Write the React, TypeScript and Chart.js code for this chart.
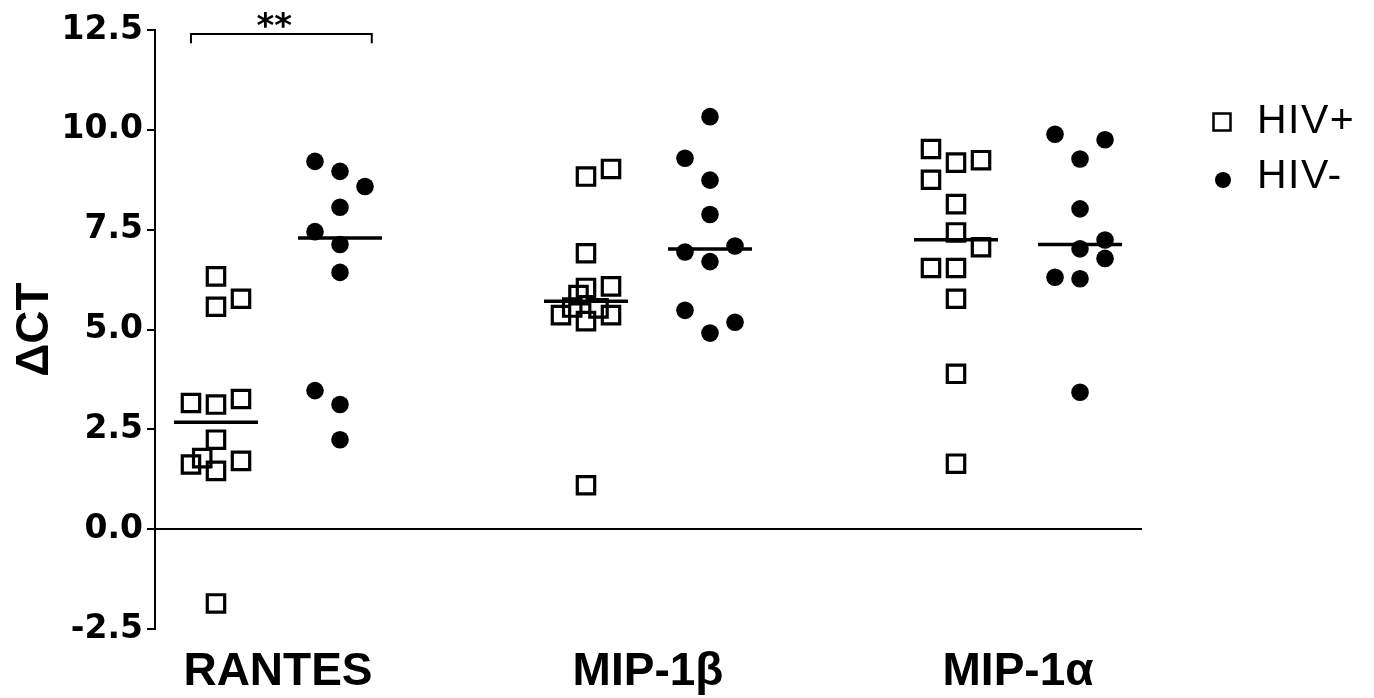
import { useEffect, useRef } from "react";
import { Chart, registerables } from "chart.js";
Chart.register(...registerables);

const categories = ["RANTES", "MIP-1β", "MIP-1α"];
const groups = ["HIV+", "HIV-"];
const yTicks = [-2.5, 0, 2.5, 5, 7.5, 10, 12.5];

const rantesPos = [6.33, 5.77, 5.57, 3.16, 3.12, 3.26, 2.24, 1.78, 1.62, 1.46, 1.71, -1.86];
const rantesPosSlot = [0, 1, 0, -1, 0, 1, 0, -0.55, -1, 0, 1, 0];
const rantesNeg = [9.21, 8.96, 8.58, 8.06, 7.45, 7.13, 6.43, 3.47, 3.12, 2.24];
const rantesNegSlot = [-1, 0, 1, 0, -1, 0, 0, -1, 0, 0];
const mip1bPos = [9.02, 8.83, 6.91, 6.08, 6.04, 5.86, 5.55, 5.53, 5.36, 5.36, 5.21, 1.1];
const mip1bPosSlot = [1, 0, 0, 1, 0, -0.3, -0.55, 0.5, -1, 1, 0, 0];
const mip1bNeg = [10.33, 9.29, 8.74, 7.88, 6.94, 7.09, 6.7, 5.48, 5.18, 4.91];
const mip1bNegSlot = [0, -1, 0, 0, -1, 1, 0, -1, 1, 0];
const mip1aPos = [9.52, 9.18, 9.24, 8.75, 8.14, 7.43, 7.06, 6.54, 6.54, 5.77, 3.89, 1.64];
const mip1aPosSlot = [-1, 0, 1, -1, 0, 0, 1, -1, 0, 0, 0, 0];
const mip1aNeg = [9.89, 9.75, 9.27, 8.02, 7.24, 7.02, 6.78, 6.31, 6.27, 3.43];
const mip1aNegSlot = [-1, 1, 0, 0, 1, 0, 1, -1, 0, 0];

const sigLabel = "**";

const posValues = [rantesPos, mip1bPos, mip1aPos];
const posSlots = [rantesPosSlot, mip1bPosSlot, mip1aPosSlot];
const negValues = [rantesNeg, mip1bNeg, mip1aNeg];
const negSlots = [rantesNegSlot, mip1bNegSlot, mip1aNegSlot];

const GROUP_OFFSET = 0.1676;
const SLOT_W = 0.0676;
const MEDIAN_HALF = 0.1135;

function median(a: number[]) {
  const s = [...a].sort((p, q) => p - q);
  const m = Math.floor(s.length / 2);
  return s.length % 2 ? s[m] : (s[m - 1] + s[m]) / 2;
}

const squareStyle = {
  pointStyle: "rect",
  pointRadius: 12.3,
  pointBorderWidth: 3.2,
  pointBorderColor: "#000",
  pointBackgroundColor: "rgba(0,0,0,0)",
};
const circleStyle = {
  pointStyle: "circle",
  pointRadius: 8.8,
  pointBorderWidth: 0,
  pointBorderColor: "#000",
  pointBackgroundColor: "#000",
};

function buildDatasets() {
  const ds: any[] = [];
  categories.forEach((cat, ci) => {
    const c = ci + 1;
    const xp = c - GROUP_OFFSET;
    const xn = c + GROUP_OFFSET;
    ds.push({
      type: "scatter",
      label: `${cat} ${groups[0]}`,
      data: posValues[ci].map((v, i) => ({ x: xp + posSlots[ci][i] * SLOT_W, y: v })),
      ...squareStyle,
      showLine: false,
      order: 2,
    });
    ds.push({
      type: "scatter",
      label: `${cat} ${groups[1]}`,
      data: negValues[ci].map((v, i) => ({ x: xn + negSlots[ci][i] * SLOT_W, y: v })),
      ...circleStyle,
      showLine: false,
      order: 2,
    });
    const mp = median(posValues[ci]);
    const mn = median(negValues[ci]);
    ds.push({
      type: "line",
      label: `${cat} ${groups[0]} median`,
      data: [
        { x: xp - MEDIAN_HALF, y: mp },
        { x: xp + MEDIAN_HALF, y: mp },
      ],
      borderColor: "#000",
      borderWidth: 3.5,
      pointRadius: 0,
      fill: false,
      order: 1,
    });
    ds.push({
      type: "line",
      label: `${cat} ${groups[1]} median`,
      data: [
        { x: xn - MEDIAN_HALF, y: mn },
        { x: xn + MEDIAN_HALF, y: mn },
      ],
      borderColor: "#000",
      borderWidth: 3.5,
      pointRadius: 0,
      fill: false,
      order: 1,
    });
  });
  // significance bracket between RANTES HIV+ and HIV-
  const bl = 1 - GROUP_OFFSET - SLOT_W;
  const br = 1 + GROUP_OFFSET + SLOT_W * 1.27;
  const top = 12.4;
  const tip = 12.17;
  ds.push({
    type: "line",
    label: "bracket",
    data: [
      { x: bl, y: tip },
      { x: bl, y: top },
      { x: br, y: top },
      { x: br, y: tip },
    ],
    borderColor: "#000",
    borderWidth: 2,
    pointRadius: 0,
    fill: false,
    order: 0,
  });
  return ds;
}

const annotPlugin = {
  id: "annot",
  afterDatasetsDraw(chart: any) {
    const { ctx, scales } = chart;
    const x = scales.x;
    const y = scales.y;
    ctx.save();
    ctx.fillStyle = "#000";
    ctx.font = 'bold 34px "DejaVu Sans"';
    ctx.textAlign = "center";
    ctx.textBaseline = "alphabetic";
    const mid = 0.99;
    ctx.fillText(sigLabel, x.getPixelForValue(mid), y.getPixelForValue(12.4) + 3);

    // legend
    const lx = 1222;
    const rows = [122, 180];
    ctx.font = '41px "Liberation Sans", Arial, sans-serif';
    ctx.textAlign = "left";
    ctx.textBaseline = "alphabetic";
    try {
      (ctx as any).letterSpacing = "1.5px";
    } catch (e) {}
    groups.forEach((g, gi) => {
      const cy = rows[gi];
      if (gi === 0) {
        ctx.lineWidth = 2.5;
        ctx.strokeStyle = "#000";
        ctx.strokeRect(lx - 8.5, cy - 8.5, 17, 17);
      } else {
        ctx.beginPath();
        ctx.arc(lx + 1, cy, 8, 0, Math.PI * 2);
        ctx.fill();
      }
      ctx.fillText(g, 1257, cy + (gi === 0 ? 11 : 8));
    });
    ctx.restore();
  },
};

export default function App() {
  const ref = useRef<HTMLCanvasElement | null>(null);
  useEffect(() => {
    if (!ref.current) return;
    const chart = new Chart(ref.current, {
      type: "scatter",
      data: { datasets: buildDatasets() },
      options: {
        animation: false,
        responsive: false,
        devicePixelRatio: 1,
        layout: { padding: { top: 30, right: 232, left: 0, bottom: 0 } },
        plugins: {
          legend: { display: false },
          tooltip: { enabled: false },
        },
        scales: {
          x: {
            type: "linear",
            min: 0.6676,
            max: 3.3351,
            grid: { display: false, drawTicks: false },
            border: { display: false },
            afterBuildTicks: (s: any) => {
              s.ticks = categories.map((_, i) => ({ value: i + 1 }));
            },
            afterFit: (s: any) => {
              s.height = 69;
            },
            ticks: {
              autoSkip: false,
              maxRotation: 0,
              padding: 16,
              color: "#000",
              font: { family: '"Liberation Sans", Arial, sans-serif', size: 46, weight: "bold" },
              callback: (v: any) => categories[Math.round(Number(v)) - 1] ?? "",
            },
          },
          y: {
            type: "linear",
            min: yTicks[0],
            max: yTicks[yTicks.length - 1],
            afterBuildTicks: (s: any) => {
              s.ticks = yTicks.map((v) => ({ value: v }));
            },
            afterFit: (s: any) => {
              s.width = 155;
            },
            grid: {
              drawOnChartArea: true,
              color: (c: any) => (c.tick && c.tick.value === 0 ? "#000" : "rgba(0,0,0,0)"),
              lineWidth: 2,
              tickColor: "#000",
              tickLength: 8,
              tickWidth: 2,
            },
            border: { display: true, color: "#000", width: 2 },
            ticks: {
              padding: 4,
              color: "#000",
              font: { family: '"DejaVu Sans"', size: 33, weight: "bold" },
              callback: (v: any) => Number(v).toFixed(1),
            },
            title: {
              display: true,
              text: "ΔCT",
              color: "#000",
              font: { family: '"Liberation Sans", Arial, sans-serif', size: 46, weight: "bold" },
              padding: { top: 8, bottom: 0 },
            },
          },
        },
      } as any,
      plugins: [annotPlugin],
    });
    return () => chart.destroy();
  }, []);
  return (
    <div style={{ position: "fixed", left: 0, top: 0, width: 1374, height: 698, background: "#fff" }}>
      <canvas ref={ref} width={1374} height={698} style={{ display: "block" }} />
    </div>
  );
}
